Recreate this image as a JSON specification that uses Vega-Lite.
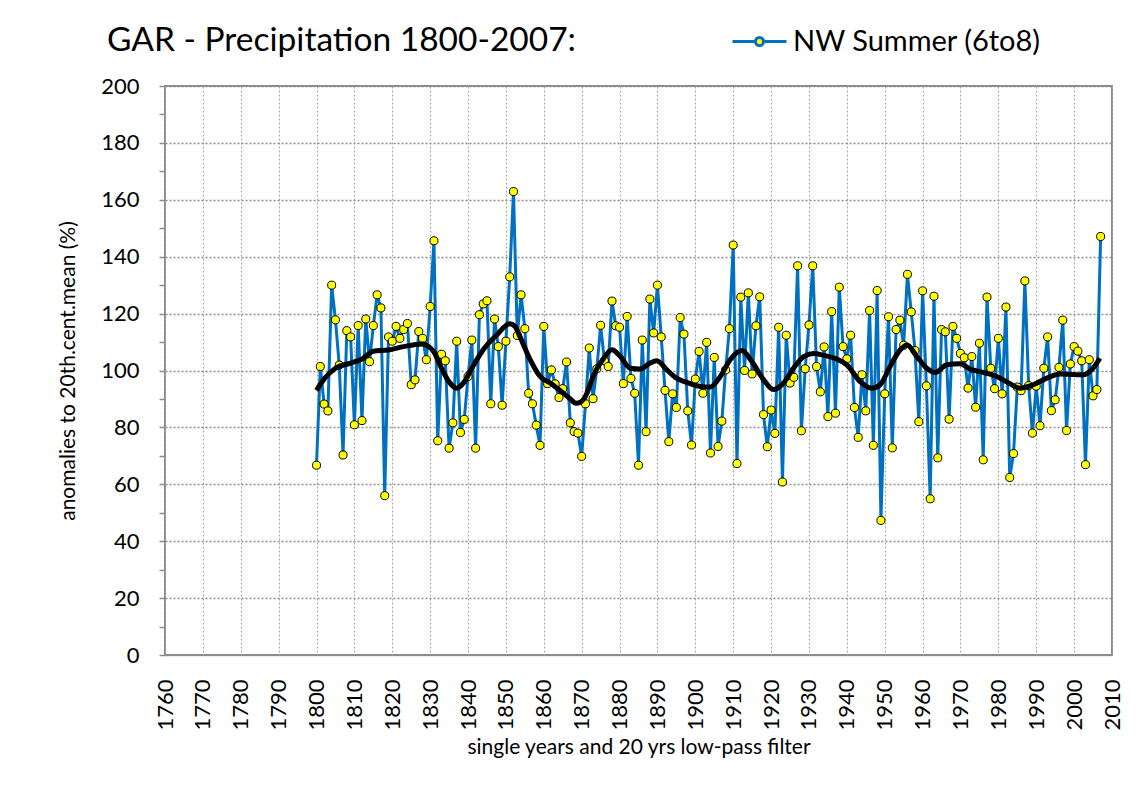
{
  "$schema": "https://vega.github.io/schema/vega-lite/v6.json",
  "width": 947,
  "height": 569,
  "autosize": "none",
  "padding": {"left": 165, "top": 86, "right": 29, "bottom": 141},
  "background": "white",
  "title": {"text": "GAR - Precipitation 1800-2007:", "anchor": "start", "frame": "group", "dx": -58, "offset": -71, "baseline": "alphabetic", "fontSize": 33.5, "font": "Lato", "fontWeight": "normal", "color": "black"},
  "datasets": {
    "series": [
      {"year":1800,"value":66.7},{"year":1801,"value":101.4},{"year":1802,"value":88.2},{"year":1803,"value":85.8},{"year":1804,"value":130},{"year":1805,"value":117.8},{"year":1806,"value":101.9},{"year":1807,"value":70.3},{"year":1808,"value":114},{"year":1809,"value":111.8},
      {"year":1810,"value":80.9},{"year":1811,"value":115.8},{"year":1812,"value":82.4},{"year":1813,"value":118.1},{"year":1814,"value":103.1},{"year":1815,"value":115.8},{"year":1816,"value":126.6},{"year":1817,"value":122},{"year":1818,"value":56},{"year":1819,"value":111.8},
      {"year":1820,"value":110.3},{"year":1821,"value":115.5},{"year":1822,"value":111.3},{"year":1823,"value":114.4},{"year":1824,"value":116.5},{"year":1825,"value":95},{"year":1826,"value":96.7},{"year":1827,"value":113.7},{"year":1828,"value":111.3},{"year":1829,"value":103.8},
      {"year":1830,"value":122.5},{"year":1831,"value":145.6},{"year":1832,"value":75.3},{"year":1833,"value":105.7},{"year":1834,"value":103.4},{"year":1835,"value":72.7},{"year":1836,"value":81.6},{"year":1837,"value":110.3},{"year":1838,"value":78.2},{"year":1839,"value":82.8},
      {"year":1840,"value":97.9},{"year":1841,"value":110.7},{"year":1842,"value":72.7},{"year":1843,"value":119.6},{"year":1844,"value":123.4},{"year":1845,"value":124.5},{"year":1846,"value":88.3},{"year":1847,"value":118.1},{"year":1848,"value":108.4},{"year":1849,"value":87.8},
      {"year":1850,"value":110.3},{"year":1851,"value":132.9},{"year":1852,"value":162.9},{"year":1853,"value":112.3},{"year":1854,"value":126.6},{"year":1855,"value":114.7},{"year":1856,"value":92},{"year":1857,"value":88.3},{"year":1858,"value":80.8},{"year":1859,"value":73.7},
      {"year":1860,"value":115.5},{"year":1861,"value":95.4},{"year":1862,"value":100.2},{"year":1863,"value":95.3},{"year":1864,"value":90.5},{"year":1865,"value":93.6},{"year":1866,"value":103},{"year":1867,"value":81.6},{"year":1868,"value":78.5},{"year":1869,"value":78},
      {"year":1870,"value":69.8},{"year":1871,"value":88.3},{"year":1872,"value":107.9},{"year":1873,"value":90.1},{"year":1874,"value":100.6},{"year":1875,"value":115.9},{"year":1876,"value":103.4},{"year":1877,"value":101.4},{"year":1878,"value":124.4},{"year":1879,"value":115.7},
      {"year":1880,"value":115.2},{"year":1881,"value":95.4},{"year":1882,"value":119},{"year":1883,"value":97.2},{"year":1884,"value":92},{"year":1885,"value":66.7},{"year":1886,"value":110.7},{"year":1887,"value":78.5},{"year":1888,"value":125.1},{"year":1889,"value":113.2},
      {"year":1890,"value":130},{"year":1891,"value":111.8},{"year":1892,"value":93},{"year":1893,"value":75},{"year":1894,"value":91.8},{"year":1895,"value":87},{"year":1896,"value":118.6},{"year":1897,"value":112.8},{"year":1898,"value":85.8},{"year":1899,"value":73.8},
      {"year":1900,"value":97},{"year":1901,"value":106.7},{"year":1902,"value":92},{"year":1903,"value":109.9},{"year":1904,"value":71},{"year":1905,"value":104.6},{"year":1906,"value":73.3},{"year":1907,"value":82.2},{"year":1908,"value":100.2},{"year":1909,"value":114.7},
      {"year":1910,"value":144.1},{"year":1911,"value":67.3},{"year":1912,"value":125.8},{"year":1913,"value":100},{"year":1914,"value":127.3},{"year":1915,"value":98.8},{"year":1916,"value":115.7},{"year":1917,"value":125.9},{"year":1918,"value":84.5},{"year":1919,"value":73.2},
      {"year":1920,"value":86.1},{"year":1921,"value":77.9},{"year":1922,"value":115.2},{"year":1923,"value":60.8},{"year":1924,"value":112.4},{"year":1925,"value":95.6},{"year":1926,"value":97.6},{"year":1927,"value":136.8},{"year":1928,"value":78.8},{"year":1929,"value":100.6},
      {"year":1930,"value":116},{"year":1931,"value":136.8},{"year":1932,"value":101.4},{"year":1933,"value":92.5},{"year":1934,"value":108.3},{"year":1935,"value":83.8},{"year":1936,"value":120.7},{"year":1937,"value":85},{"year":1938,"value":129.3},{"year":1939,"value":108.4},
      {"year":1940,"value":104.1},{"year":1941,"value":112.4},{"year":1942,"value":87},{"year":1943,"value":76.5},{"year":1944,"value":98.5},{"year":1945,"value":85.8},{"year":1946,"value":121.1},{"year":1947,"value":73.7},{"year":1948,"value":128.1},{"year":1949,"value":47.3},
      {"year":1950,"value":91.8},{"year":1951,"value":118.9},{"year":1952,"value":72.8},{"year":1953,"value":114.4},{"year":1954,"value":117.7},{"year":1955,"value":108.9},{"year":1956,"value":133.8},{"year":1957,"value":120.6},{"year":1958,"value":107},{"year":1959,"value":82},
      {"year":1960,"value":128},{"year":1961,"value":94.6},{"year":1962,"value":54.9},{"year":1963,"value":126.1},{"year":1964,"value":69.3},{"year":1965,"value":114.4},{"year":1966,"value":113.6},{"year":1967,"value":82.9},{"year":1968,"value":115.5},{"year":1969,"value":111.3},
      {"year":1970,"value":106},{"year":1971,"value":104.5},{"year":1972,"value":93.8},{"year":1973,"value":104.9},{"year":1974,"value":87.1},{"year":1975,"value":109.6},{"year":1976,"value":68.6},{"year":1977,"value":125.8},{"year":1978,"value":100.8},{"year":1979,"value":93.6},
      {"year":1980,"value":111.3},{"year":1981,"value":91.8},{"year":1982,"value":122.3},{"year":1983,"value":62.4},{"year":1984,"value":70.8},{"year":1985,"value":94.2},{"year":1986,"value":92.9},{"year":1987,"value":131.5},{"year":1988,"value":94.7},{"year":1989,"value":78},
      {"year":1990,"value":94.5},{"year":1991,"value":80.6},{"year":1992,"value":100.8},{"year":1993,"value":111.8},{"year":1994,"value":85.9},{"year":1995,"value":89.7},{"year":1996,"value":101.1},{"year":1997,"value":117.7},{"year":1998,"value":78.9},{"year":1999,"value":102.3},
      {"year":2000,"value":108.4},{"year":2001,"value":106.8},{"year":2002,"value":103.4},{"year":2003,"value":66.9},{"year":2004,"value":103.8},{"year":2005,"value":91.1},{"year":2006,"value":93.3},{"year":2007,"value":147.1}
    ],
    "lowpass": [
      {"year":1800,"value":93},{"year":1802,"value":97},{"year":1805,"value":100.8},{"year":1809,"value":102.6},{"year":1812,"value":104},{"year":1815,"value":106.8},{"year":1819,"value":107.2},{"year":1823,"value":108.4},{"year":1828,"value":109.3},{"year":1829.5,"value":108.5},
      {"year":1831,"value":106.5},{"year":1833,"value":100.8},{"year":1835,"value":96},{"year":1837,"value":93.8},{"year":1839,"value":96},{"year":1841,"value":100.8},{"year":1844,"value":107.3},{"year":1847.6,"value":112.5},{"year":1851,"value":116.4},{"year":1852.4,"value":115.5},
      {"year":1853.7,"value":111.9},{"year":1856.4,"value":103.8},{"year":1859,"value":97.9},{"year":1861.7,"value":95.6},{"year":1865,"value":92.2},{"year":1867,"value":90},{"year":1868.5,"value":88.5},{"year":1869.6,"value":88.8},{"year":1871.4,"value":92},{"year":1873,"value":97.9},
      {"year":1875.8,"value":104.3},{"year":1878,"value":107.3},{"year":1880.2,"value":104.9},{"year":1882.8,"value":100.8},{"year":1885.5,"value":100.5},{"year":1888,"value":102.6},{"year":1889.8,"value":103.4},{"year":1892.5,"value":100.2},{"year":1895,"value":97.3},{"year":1897.8,"value":95.8},
      {"year":1901.3,"value":94.4},{"year":1904,"value":94.2},{"year":1906.6,"value":97.9},{"year":1909.2,"value":103.8},{"year":1912.3,"value":107},{"year":1914.9,"value":103.2},{"year":1918,"value":96.8},{"year":1920.6,"value":93.3},{"year":1923.3,"value":95.6},{"year":1925.9,"value":100.8},
      {"year":1928.6,"value":104.9},{"year":1931.2,"value":106},{"year":1934,"value":105.3},{"year":1937.4,"value":104},{"year":1940,"value":102},{"year":1943.5,"value":96.1},{"year":1946.6,"value":93.8},{"year":1948.8,"value":95},{"year":1951.4,"value":101.4},{"year":1954.1,"value":107.3},
      {"year":1955.9,"value":109},{"year":1958.5,"value":104.9},{"year":1961.1,"value":100.8},{"year":1963.3,"value":99.3},{"year":1966.4,"value":102},{"year":1969.9,"value":102.4},{"year":1972.5,"value":100.5},{"year":1976.1,"value":99.3},{"year":1979.6,"value":97.9},{"year":1983.1,"value":95.3},
      {"year":1985.7,"value":93.8},{"year":1989.2,"value":95},{"year":1992.8,"value":97.3},{"year":1996.3,"value":98.8},{"year":2000.7,"value":98.5},{"year":2002.4,"value":98.5},{"year":2004.6,"value":100.2},{"year":2006.8,"value":104.3}
    ],
    "decades": [
      {"year":1770},{"year":1780},{"year":1790},{"year":1800},{"year":1810},{"year":1820},{"year":1830},{"year":1840},{"year":1850},{"year":1860},{"year":1870},{"year":1880},{"year":1890},
      {"year":1900},{"year":1910},{"year":1920},{"year":1930},{"year":1940},{"year":1950},{"year":1960},{"year":1970},{"year":1980},{"year":1990},{"year":2000}
    ]
  },
  "encoding": {
    "x": {
      "field": "year", "type": "quantitative",
      "scale": {"domain": [1760, 2010], "nice": false, "zero": false},
      "axis": {
        "values": [1760,1770,1780,1790,1800,1810,1820,1830,1840,1850,1860,1870,1880,1890,1900,1910,1920,1930,1940,1950,1960,1970,1980,1990,2000,2010],
        "format": "d", "labelAngle": -90, "labelAlign": "right", "labelBaseline": "middle",
        "ticks": false, "labelPadding": 24, "domain": false,
        "grid": true, "gridColor": "#a6a6a6", "gridDash": [2, 2], "gridWidth": 1,
        "title": "single years and 20 yrs low-pass filter", "titlePadding": 6,
        "labelFontSize": 22, "titleFontSize": 21, "labelFont": "Lato", "titleFont": "Lato",
        "titleFontWeight": "normal", "labelColor": "black", "titleColor": "black", "labelFlush": false, "labelOverlap": false
      }
    },
    "y": {
      "field": "value", "type": "quantitative",
      "scale": {"domain": [0, 200], "nice": false, "zero": true},
      "axis": {
        "values": [0,10,20,30,40,50,60,70,80,90,100,110,120,130,140,150,160,170,180,190,200],
        "labelExpr": "datum.value % 20 == 0 ? datum.label : ''",
        "grid": true, "gridColor": "#8c8c8c", "gridDash": [2, 2], "gridWidth": 1.5,
        "gridOpacity": {"condition": {"test": "datum.value % 20 == 0", "value": 1}, "value": 0},
        "ticks": true, "tickSize": 6, "tickColor": "#8c8c8c", "tickWidth": 1.5,
        "labelPadding": 20, "domain": false,
        "title": "anomalies to 20th.cent.mean (%)", "titlePadding": 22,
        "labelFontSize": 22, "titleFontSize": 21, "labelFont": "Lato", "titleFont": "Lato",
        "titleFontWeight": "normal", "labelColor": "black", "titleColor": "black", "labelOverlap": false
      }
    }
  },
  "layer": [
    {
      "mark": {"type": "rule", "color": "#8c8c8c", "strokeWidth": 2.5},
      "encoding": {"x": null, "y": {"datum": 100, "type": "quantitative"}}
    },
    {
      "data": {"name": "decades"},
      "mark": {"type": "tick", "orient": "vertical", "color": "#8c8c8c", "thickness": 1.5, "size": 7, "yOffset": 3},
      "encoding": {"y": {"datum": 100, "type": "quantitative"}}
    },
    {
      "data": {"name": "series"},
      "mark": {"type": "line", "strokeWidth": 3},
      "encoding": {
        "color": {
          "datum": "NW Summer (6to8)", "type": "nominal",
          "scale": {"range": ["#0070C0"]},
          "legend": {
            "orient": "none", "legendX": 566, "legendY": -73, "title": null,
            "symbolType": "M-1,0H-0.15M0.15,0H1M0.15,0A0.15,0.15,0,1,1,-0.15,0A0.15,0.15,0,1,1,0.15,0Z",
            "symbolSize": 2916, "symbolStrokeWidth": 3, "symbolFillColor": "#FFFF00",
            "labelFontSize": 29, "labelFont": "Lato", "labelColor": "black", "labelOffset": 5, "labelLimit": 400
          }
        }
      }
    },
    {
      "data": {"name": "series"},
      "mark": {"type": "point", "filled": true, "fill": "#FFFF00", "stroke": "black", "strokeWidth": 1, "size": 65, "opacity": 1}
    },
    {
      "data": {"name": "lowpass"},
      "mark": {"type": "line", "color": "black", "strokeWidth": 5, "interpolate": "monotone"}
    }
  ],
  "config": {
    "view": {"stroke": "#8c8c8c", "strokeWidth": 2},
    "font": "Lato"
  }
}
